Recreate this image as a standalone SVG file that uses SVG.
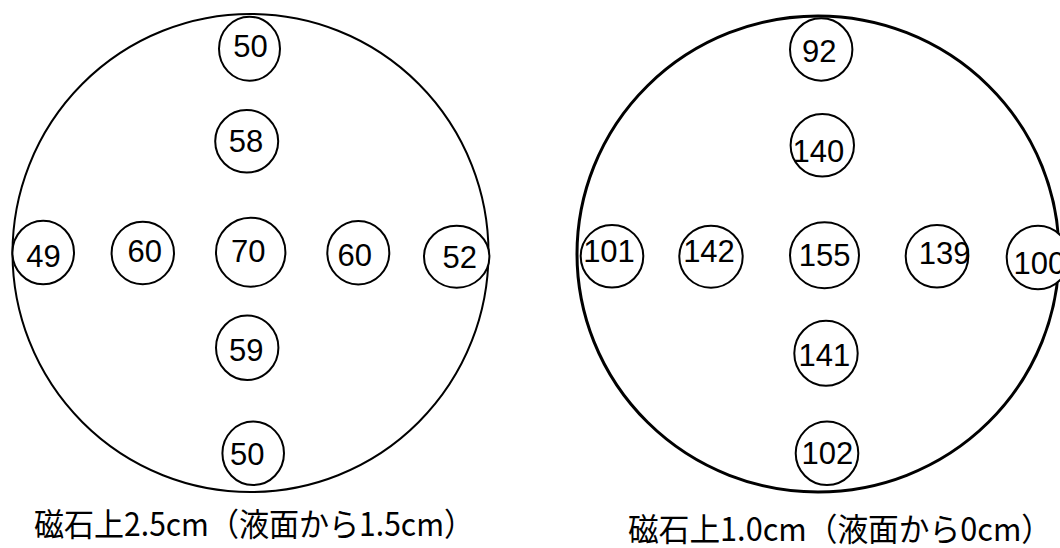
<svg xmlns="http://www.w3.org/2000/svg" width="1060" height="548" viewBox="0 0 1060 548">
<style>
.big{fill:none;stroke:#000;stroke-width:2}
.big2{fill:none;stroke:#000;stroke-width:3}
.pt{fill:#fff;stroke:#000;stroke-width:2}
.num{font-family:"Liberation Sans",Arial,sans-serif;font-size:31px;fill:#000;text-anchor:middle}
.cap{font-family:"Noto Sans CJK JP",sans-serif;font-size:32px;fill:#000}
</style>
<rect width="1060" height="548" fill="#fff"/>
<g id="plate-left">
<ellipse class="big" cx="250.5" cy="253" rx="238" ry="239"/>
</g>
<g id="plate-right">
<ellipse class="big2" cx="818" cy="254" rx="241" ry="238"/>
</g>
<g id="connectors"/>
<g id="L-top"><ellipse class="pt" cx="249.5" cy="48.7" rx="30.5" ry="32"/><text class="num" x="250.5" y="56.7">50</text></g>
<g id="L-upper"><ellipse class="pt" cx="246.7" cy="141.3" rx="31.5" ry="31.3"/><text class="num" x="246" y="151.7">58</text></g>
<g id="L-farleft"><ellipse class="pt" cx="43.2" cy="252.5" rx="30.8" ry="31.8"/><text class="num" x="43.5" y="266.5">49</text></g>
<g id="L-left"><ellipse class="pt" cx="142.8" cy="253" rx="31.2" ry="31.3"/><text class="num" x="144.8" y="262.3">60</text></g>
<g id="L-center"><ellipse class="pt" cx="250.7" cy="252.2" rx="34.7" ry="34.5"/><text class="num" x="248.3" y="262.3">70</text></g>
<g id="L-right"><ellipse class="pt" cx="358.3" cy="252.7" rx="31" ry="31.7"/><text class="num" x="354.7" y="265.7">60</text></g>
<g id="L-farright"><ellipse class="pt" cx="456.7" cy="256.7" rx="32.7" ry="31"/><text class="num" x="459.7" y="268.3">52</text></g>
<g id="L-lower"><ellipse class="pt" cx="247.2" cy="347.8" rx="31.2" ry="32.2"/><text class="num" x="246.3" y="360.7">59</text></g>
<g id="L-bottom"><ellipse class="pt" cx="253.2" cy="453.3" rx="30.8" ry="31.7"/><text class="num" x="247.2" y="465">50</text></g>
<g id="R-top"><ellipse class="pt" cx="821.2" cy="49.5" rx="31.2" ry="31.2"/><text class="num" x="819.2" y="62.3">92</text></g>
<g id="R-upper"><ellipse class="pt" cx="822.3" cy="145.3" rx="31.7" ry="31.3"/><text class="num" x="818.3" y="162.3">140</text></g>
<g id="R-farleft"><ellipse class="pt" cx="612" cy="256.3" rx="31.3" ry="31.3"/><text class="num" x="609" y="262.3">101</text></g>
<g id="R-left"><ellipse class="pt" cx="711" cy="256.7" rx="31.7" ry="31"/><text class="num" x="709" y="262.3">142</text></g>
<g id="R-center"><ellipse class="pt" cx="824.5" cy="255.3" rx="34.5" ry="33"/><text class="num" x="824.7" y="265.7">155</text></g>
<g id="R-right"><ellipse class="pt" cx="937" cy="256.3" rx="31.3" ry="31.3"/><text class="num" x="944.7" y="264.3">139</text></g>
<g id="R-farright"><ellipse class="pt" cx="1038" cy="257.5" rx="31.3" ry="31.8"/><text class="num" x="1013.5" y="274" style="text-anchor:start">100</text></g>
<g id="R-lower"><ellipse class="pt" cx="826" cy="353.2" rx="31.7" ry="32.5"/><text class="num" x="824.3" y="365.7">141</text></g>
<g id="R-bottom"><ellipse class="pt" cx="827" cy="453.3" rx="31.3" ry="31.7"/><text class="num" x="827.3" y="464.3">102</text></g>
<g id="captions">
<text class="cap" x="34" y="536" textLength="440" lengthAdjust="spacingAndGlyphs">磁石上2.5cm（液面から1.5cm）</text>
<text class="cap" x="628" y="541" textLength="424" lengthAdjust="spacingAndGlyphs">磁石上1.0cm（液面から0cm）</text>
</g>
</svg>
